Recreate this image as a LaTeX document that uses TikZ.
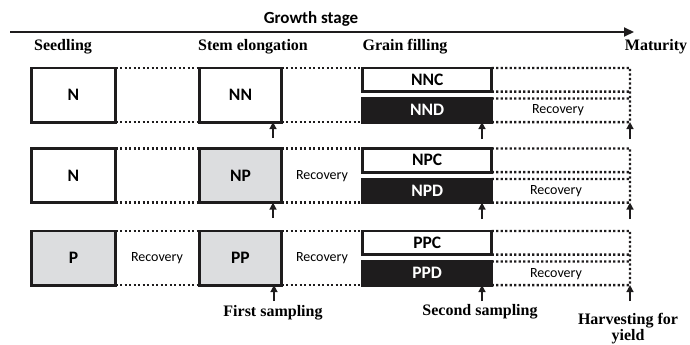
\documentclass[tikz,border=0pt]{standalone}
\usepackage{fontspec}
\setmainfont{Liberation Serif}
\newfontfamily\carlito{Carlito}
\usetikzlibrary{arrows.meta}
\definecolor{lightgr}{RGB}{220,221,223}
\definecolor{nearblack}{RGB}{30,28,29}
\tikzset{
  bx/.style={draw=nearblack, line width=2.8pt, inner sep=0pt, outer sep=0pt,
    font=\carlito\bfseries\fontsize{17.5}{19}\selectfont},
  bigbox/.style={bx, minimum height=54.2pt},
  leftbox/.style={bigbox, minimum width=84.2pt},
  midbox/.style={bigbox, minimum width=82.2pt},
  cbox/.style={bx, fill=white, minimum width=128.7pt, minimum height=23.7pt},
  dbox/.style={bx, fill=nearblack, text=white, minimum width=128.7pt, minimum height=23.7pt},
  grey/.style={fill=lightgr},
  dots/.style={draw=nearblack, line width=2.3pt, dash pattern=on 2.2pt off 2.3pt},
  rec/.style={font=\carlito\fontsize{14}{16}\selectfont},
  stage/.style={font=\bfseries\fontsize{16}{18}\selectfont},
  arr/.style={draw=nearblack, line width=1.5pt, -{Triangle[length=7pt,width=7pt]}},
}
\begin{document}
\begin{tikzpicture}[x=1pt,y=-1pt]
\useasboundingbox (0,0) rectangle (690,345);
% axis
\node[font=\carlito\bfseries\fontsize{17}{20}\selectfont] (gs) at (311,19) {Growth stage};
\coordinate (ax0) at (10,32);
\coordinate (ax1) at (634,32);
\draw[nearblack, line width=2pt, -{Triangle[length=10pt,width=9pt]}] (ax0) -- (ax1);
% stage labels
\node[stage] (s1) at (63,47) {Seedling};
\node[stage] (s2) at (253,47) {Stem elongation};
\node[stage] (s3) at (405,47) {Grain filling};
\node[stage] (s4) at (656,47) {Maturity};

% ---------- Row 1 (T = 66.5)
\node[leftbox] (N1) at (73.5,95) {N};
\node[midbox] (NN) at (240.5,95) {NN};
\node[cbox] (NNC) at (427.2,79.75) {NNC};
\node[dbox] (NND) at (427.2,110.25) {NND};
\coordinate (r1a) at (630,67.9);
\coordinate (r1b) at (630,91.6);
\coordinate (r1c) at (630,98.4);
\coordinate (r1d) at (630,122.1);
\draw[dots] (N1.north east) -- (NN.north west);
\draw[dots] (N1.south east) -- (NN.south west);
\draw[dots] (NN.north east) -- (NNC.north west);
\draw[dots] (NN.south east) -- (NND.south west);
\draw[dots] (NNC.north east) -- (r1a) -- (r1d);
\draw[dots] (NNC.south east) -- (r1b);
\draw[dots] (NND.north east) -- (r1c);
\draw[dots] (NND.south east) -- (r1d);
\node[rec] (rc1) at (558,110.25) {Recovery};

% ---------- Row 2 (T = 147)
\node[leftbox] (N2) at (73.5,175.5) {N};
\node[midbox, grey] (NP) at (240.5,175.5) {NP};
\node[cbox] (NPC) at (427.2,160.25) {NPC};
\node[dbox] (NPD) at (427.2,190.75) {NPD};
\coordinate (r2a) at (630,148.4);
\coordinate (r2b) at (630,172.1);
\coordinate (r2c) at (630,178.9);
\coordinate (r2d) at (630,202.6);
\draw[dots] (N2.north east) -- (NP.north west);
\draw[dots] (N2.south east) -- (NP.south west);
\draw[dots] (NP.north east) -- (NPC.north west);
\draw[dots] (NP.south east) -- (NPD.south west);
\draw[dots] (NPC.north east) -- (r2a) -- (r2d);
\draw[dots] (NPC.south east) -- (r2b);
\draw[dots] (NPD.north east) -- (r2c);
\draw[dots] (NPD.south east) -- (r2d);
\node[rec] (rc2) at (322,176) {Recovery};
\node[rec] (rc3) at (556,191) {Recovery};

% ---------- Row 3 (T = 229.5)
\node[leftbox, grey] (P) at (73.5,258) {P};
\node[midbox, grey] (PP) at (240.5,258) {PP};
\node[cbox] (PPC) at (427.2,242.75) {PPC};
\node[dbox] (PPD) at (427.2,273.25) {PPD};
\coordinate (r3a) at (630,230.9);
\coordinate (r3b) at (630,254.6);
\coordinate (r3c) at (630,261.4);
\coordinate (r3d) at (630,285.1);
\draw[dots] (P.north east) -- (PP.north west);
\draw[dots] (P.south east) -- (PP.south west);
\draw[dots] (PP.north east) -- (PPC.north west);
\draw[dots] (PP.south east) -- (PPD.south west);
\draw[dots] (PPC.north east) -- (r3a) -- (r3d);
\draw[dots] (PPC.south east) -- (r3b);
\draw[dots] (PPD.north east) -- (r3c);
\draw[dots] (PPD.south east) -- (r3d);
\node[rec] (rc4) at (157,258) {Recovery};
\node[rec] (rc5) at (322,258) {Recovery};
\node[rec] (rc6) at (556,274) {Recovery};

% ---------- arrows
\coordinate (a11) at (273,138);
\coordinate (a12) at (482,139);
\coordinate (a13) at (630,139);
\coordinate (a21) at (273,218);
\coordinate (a22) at (482,219);
\coordinate (a23) at (630,219);
\coordinate (a31) at (274,301);
\coordinate (a32) at (482,301);
\coordinate (a33) at (630,301);
\draw[arr] (a11) -- (a11 |- NN.south);
\draw[arr] (a12) -- (a12 |- NND.south);
\draw[arr] (a13) -- (r1d);
\draw[arr] (a21) -- (a21 |- NP.south);
\draw[arr] (a22) -- (a22 |- NPD.south);
\draw[arr] (a23) -- (r2d);
\draw[arr] (a31) -- (a31 |- PP.south);
\draw[arr] (a32) -- (a32 |- PPD.south);
\draw[arr] (a33) -- (r3d);

% ---------- bottom labels
\node[stage] (fs) at (273,313) {First sampling};
\node[stage] (ss) at (480,312) {Second sampling};
\node[stage, align=center, font=\bfseries\fontsize{16}{16}\selectfont] (hv) at (628,329) {Harvesting for\\yield};
\end{tikzpicture}
\end{document}
